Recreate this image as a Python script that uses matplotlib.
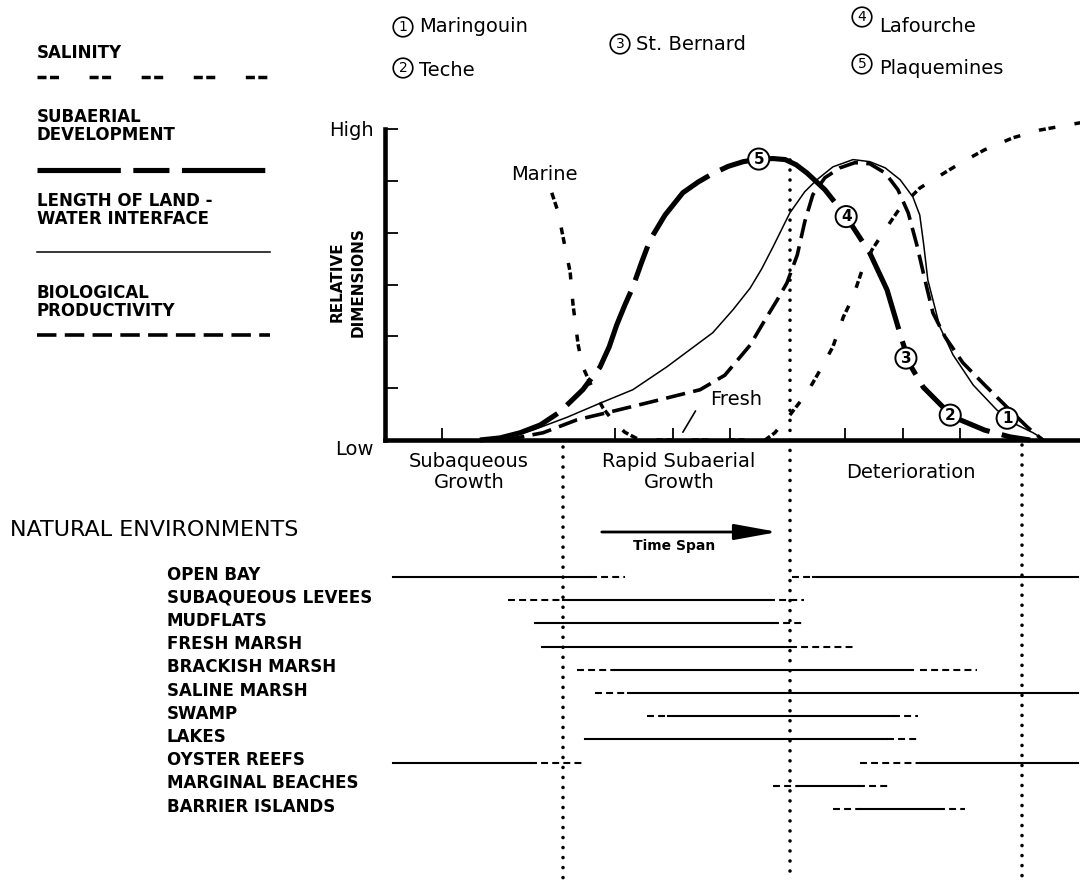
import matplotlib as mpl
import matplotlib.pyplot as plt
from matplotlib.lines import Line2D
from matplotlib.transforms import blended_transform_factory

mpl.use('Agg')
plt.rcParams['font.family'] = ['DejaVu Sans']
plt.rcParams['lines.scale_dashes'] = False

W, H = 1080, 883

# time in x-tick units, relative dimension 0 (Low) .. 6 (High)
salinity_t = [2.90, 3.01, 3.13, 3.22, 3.27, 3.36, 3.44, 3.62, 3.79, 3.95, 4.17, 4.43,
              6.61, 6.78, 7.04, 7.34, 7.62, 7.79, 7.97, 8.14, 8.31, 8.47, 8.73, 8.96,
              9.30, 9.65, 10.05, 10.43, 10.92, 11.39, 12.09]
salinity_v = [4.77, 4.40, 3.73, 3.24, 2.61, 1.83, 1.41, 0.97, 0.62, 0.39, 0.15, 0.0,
              0.0, 0.14, 0.48, 0.91, 1.45, 1.80, 2.37, 2.76, 3.32, 3.67, 4.11, 4.48,
              4.86, 5.10, 5.37, 5.60, 5.83, 5.98, 6.12]

subaerial_t = [1.65, 2.00, 2.35, 2.70, 3.04, 3.44, 3.74, 3.90, 4.03, 4.17, 4.31, 4.46,
               4.61, 4.87, 5.18, 5.45, 5.70, 5.97, 6.23, 6.52, 6.75, 6.96, 7.15, 7.34,
               7.65, 8.02, 8.43, 8.73, 8.99, 9.13, 9.36, 9.70, 10.00, 10.43, 10.87, 11.22]
subaerial_v = [0.0, 0.04, 0.14, 0.29, 0.54, 0.97, 1.41, 1.80, 2.22, 2.60, 2.95, 3.42,
               3.86, 4.34, 4.77, 4.98, 5.14, 5.28, 5.37, 5.42, 5.43, 5.41, 5.31, 5.15,
               4.83, 4.31, 3.61, 2.90, 1.93, 1.45, 1.02, 0.64, 0.39, 0.19, 0.06, 0.0]

length_t = [2.00, 2.57, 3.17, 3.74, 4.31, 4.90, 5.30, 5.70, 6.05, 6.35, 6.55, 6.75,
            7.04, 7.30, 7.51, 7.79, 8.14, 8.43, 8.70, 8.96, 9.18, 9.30, 9.37, 9.44,
            9.53, 9.65, 9.88, 10.23, 10.64, 10.92, 11.27, 11.48]
length_v = [0.0, 0.19, 0.44, 0.71, 0.97, 1.41, 1.74, 2.07, 2.51, 2.93, 3.30, 3.73,
            4.38, 4.79, 5.02, 5.27, 5.41, 5.37, 5.25, 5.02, 4.69, 4.34, 3.76, 3.09,
            2.70, 2.18, 1.64, 1.06, 0.58, 0.33, 0.14, 0.0]

bio_t = [2.09, 2.75, 3.34, 3.91, 4.61, 5.48, 5.91, 6.35, 6.61, 6.82, 6.99, 7.17,
         7.30, 7.44, 7.65, 7.91, 8.17, 8.43, 8.70, 8.92, 9.10, 9.25, 9.39, 9.53,
         9.74, 10.05, 10.43, 10.83, 11.17, 11.44]
bio_v = [0.0, 0.14, 0.39, 0.54, 0.73, 0.97, 1.25, 1.83, 2.32, 2.70, 3.03, 3.57,
         4.21, 4.73, 5.06, 5.25, 5.35, 5.33, 5.15, 4.83, 4.38, 3.76, 3.09, 2.45,
         1.99, 1.49, 1.06, 0.62, 0.25, 0.0]

lobe_names = ['Maringouin', 'Teche', 'St. Bernard', 'Lafourche', 'Plaquemines']
lobe_t = [10.82, 9.83, 9.06, 8.02, 6.50]
lobe_v = [0.42, 0.48, 1.58, 4.31, 5.42]

phase_names = ['Subaqueous\nGrowth', 'Rapid Subaerial\nGrowth', 'Deterioration']
phase_mid = [1.46, 5.11, 9.15]
phase_bounds = [3.10, 7.04, 11.08]

env_names = ['OPEN BAY', 'SUBAQUEOUS LEVEES', 'MUDFLATS', 'FRESH MARSH',
             'BRACKISH MARSH', 'SALINE MARSH', 'SWAMP', 'LAKES', 'OYSTER REEFS',
             'MARGINAL BEACHES', 'BARRIER ISLANDS']
env_solid = [[(0.14, 3.57), (7.44, 12.05)],
             [(3.10, 6.66)],
             [(2.61, 6.73)],
             [(2.73, 7.04)],
             [(4.00, 9.18)],
             [(4.23, 12.05)],
             [(4.92, 8.83)],
             [(3.48, 8.73)],
             [(0.14, 2.52), (9.36, 12.05)],
             [(7.18, 8.23)],
             [(8.26, 9.62)]]
env_dashed = [[(3.57, 4.17), (7.08, 7.44)],
              [(2.14, 3.10), (6.66, 7.29)],
              [(6.73, 7.27)],
              [(7.04, 8.17)],
              [(3.34, 4.00), (9.30, 10.30)],
              [(3.65, 4.23)],
              [(4.56, 4.92), (8.83, 9.27)],
              [(8.73, 9.30)],
              [(2.52, 3.44), (8.26, 9.36)],
              [(6.75, 7.18), (8.23, 8.78)],
              [(7.79, 8.26), (9.62, 10.09)]]

SAL = dict(color='black', lw=2.5, ls=(0, (5, 2, 5, 14)))
SUB = dict(color='black', lw=3.7, ls=(0, (60, 9, 26, 9)))
LEN = dict(color='black', lw=1.1, ls='-')
BIO = dict(color='black', lw=2.6, ls=(0, (14, 6)))


def fx(px):
    return px / W


def fy(py):
    return 1 - py / H


fig = plt.figure(figsize=(W / 100, H / 100), dpi=100)
x_max = (W - 385) / 57.5

# main chart
ax = fig.add_axes([fx(385), fy(440), fx(W - 385), (440 - 129) / H])
ax.patch.set_alpha(0)
ax.set_xlim(0, x_max)
ax.set_ylim(0, 6)
for s in ['top', 'right']:
    ax.spines[s].set_visible(False)
for s in ['left', 'bottom']:
    ax.spines[s].set_linewidth(3.3)
ax.set_xticks([1, 4, 5, 6, 8, 9, 10])
ax.set_xticklabels([])
ax.set_yticks(range(7))
ax.set_yticklabels(['Low', '', '', '', '', '', 'High'])
ax.tick_params(axis='x', direction='in', length=9, width=1.3)
ax.tick_params(axis='y', direction='in', length=9, width=1.3, labelsize=14, pad=8)
ax.get_yticklabels()[0].set_va('top')

ax.plot(salinity_t, salinity_v, clip_on=False, zorder=3, **SAL)
ax.plot(length_t, length_v, clip_on=False, zorder=3, **LEN)
ax.plot(bio_t, bio_v, clip_on=False, zorder=3, **BIO)
ax.plot(subaerial_t, subaerial_v, clip_on=False, zorder=3, **SUB)

for i, (t, v) in enumerate(zip(lobe_t, lobe_v)):
    ax.text(t, v, str(i + 1), ha='center', va='center', fontsize=11, fontweight='bold',
            bbox=dict(boxstyle='circle,pad=0.2', fc='white', ec='black', lw=1.4), zorder=6)

ax.text(2.77, 5.12, 'Marine', ha='center', va='center', fontsize=14)
ax.text(6.10, 0.79, 'Fresh', ha='center', va='center', fontsize=14)
ax.annotate('', xy=(5.18, 0.15), xytext=(5.40, 0.56),
            arrowprops=dict(arrowstyle='-', lw=1.2, shrinkA=0, shrinkB=0))

for name, t in zip(phase_names, phase_mid):
    ax.text(t, -0.62, name, ha='center', va='center', fontsize=14, linespacing=1.1)

fig.text(fx(348), fy(282), 'RELATIVE\nDIMENSIONS', rotation=90, ha='center', va='center',
         fontsize=11, fontweight='bold', linespacing=1.5)

# environments
ax_env = fig.add_axes([fx(385), fy(820.6), fx(W - 385), 255.2 / H])
ax_env.set_xlim(0, x_max)
ax_env.set_ylim(10.5, -0.5)
ax_env.axis('off')
lbl_tr = blended_transform_factory(fig.transFigure, ax_env.transData)
for i, name in enumerate(env_names):
    ax_env.text(fx(167), i - 0.1, name, transform=lbl_tr, ha='left', va='center',
                fontsize=12, fontweight='bold')
    for a, b in env_solid[i]:
        ax_env.plot([a, b], [i, i], color='black', lw=1.5, clip_on=False)
    for a, b in env_dashed[i]:
        ax_env.plot([a, b], [i, i], color='black', lw=1.5, ls=(0, (5, 3)), clip_on=False)

fig.text(fx(10), fy(530), 'NATURAL ENVIRONMENTS', ha='left', va='center', fontsize=16)

# overlay: phase boundaries and time arrow
ax_over = fig.add_axes([fx(385), 0, fx(W - 385), 1])
ax_over.set_xlim(0, x_max)
ax_over.set_ylim(H, 0)
ax_over.axis('off')
for x, y0 in zip(phase_bounds, [447, 160, 445]):
    ax_over.plot([x, x], [y0, H - 3], color='black', lw=2.6, ls=(0, (0.01, 7.2)),
                 dash_capstyle='round')

ax_over.annotate('', xy=(6.83, 532), xytext=(3.77, 532),
                 arrowprops=dict(arrowstyle='-|>,head_length=2.2,head_width=0.4',
                                 lw=2, color='black', mutation_scale=12,
                                 shrinkA=0, shrinkB=0))
ax_over.text(5.03, 546, 'Time Span', ha='center', va='center', fontsize=10, fontweight='bold')

# left legend (the salinity key uses the wider spacing of the original key)
SAL_KEY = dict(SAL, ls=(0, (6.5, 2.5, 6.5, 22)))
leg_items = [('SALINITY', [53], 77, SAL_KEY),
             ('SUBAERIAL\nDEVELOPMENT', [126], 170, SUB),
             ('LENGTH OF LAND -\nWATER INTERFACE', [210], 252, LEN),
             ('BIOLOGICAL\nPRODUCTIVITY', [302], 335, BIO)]
for label, ys, yl, st in leg_items:
    fig.text(fx(37), fy(ys[0]), label, ha='left', va='center', fontsize=12,
             fontweight='bold', linespacing=1.05)
    fig.add_artist(Line2D([fx(37), fx(270)], [fy(yl), fy(yl)], transform=fig.transFigure,
                          **st))

# lobe key
circ_xy = [(403, 27), (403, 68), (620, 44), (862, 17), (862, 64)]
name_xy = [(419, 27), (419, 70), (636, 44), (879, 27), (879, 68)]
for i, name in enumerate(lobe_names):
    cx, cy = circ_xy[i]
    fig.text(fx(cx), fy(cy), str(i + 1), ha='center', va='center', fontsize=10,
             bbox=dict(boxstyle='circle,pad=0.2', fc='white', ec='black', lw=1.2))
    nx, ny = name_xy[i]
    fig.text(fx(nx), fy(ny), name, ha='left', va='center', fontsize=14)

fig.savefig('out.png', dpi=100)
